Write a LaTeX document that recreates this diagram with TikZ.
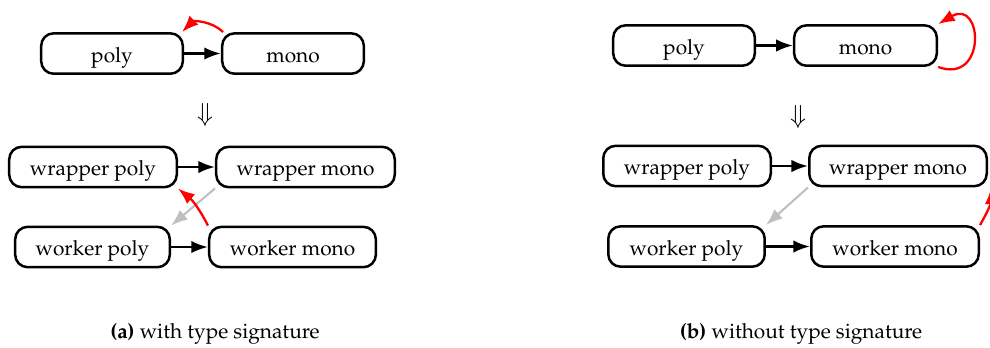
\documentclass[tikz,border=0pt]{standalone}
\usepackage[T1]{fontenc}
\usepackage{mathpazo}
\usepackage{tikz}
\usetikzlibrary{arrows.meta}
\tikzset{>={Latex[width=6pt,length=8pt]}}
\tikzset{
  fn/.style={draw, line width=1.2pt, rounded corners=6pt, minimum height=19.4pt, inner sep=0pt,
    text height=8.5pt, text depth=0pt},
  call/.style={->, line width=1.2pt},
  back/.style={->, line width=1.1pt, red},
  dead/.style={->, line width=1pt, black!25},
}

\begin{document}
\begin{tikzpicture}[x=0.48pt, y=-0.48pt]
  \clip (0,0) rectangle (990,347);

  % (a) with type signature
  \node[fn, minimum width=68pt] (poly-a) at (112,53.5) {poly};
  \node[fn, minimum width=68pt] (mono-a) at (293,53.5) {mono};
  \node (down-a) at (205,115) {\large$\Downarrow$};
  \node[fn, minimum width=80.4pt] (wrap-poly-a) at (93,167) {wrapper poly};
  \node[fn, minimum width=85.7pt] (wrap-mono-a) at (305.5,167) {wrapper mono};
  \node[fn, minimum width=74.2pt] (work-poly-a) at (92.5,247) {worker poly};
  \node[fn, minimum width=80pt] (work-mono-a) at (292.5,247) {worker mono};

  \draw[call] (poly-a) -- (mono-a);
  \draw[back] ([xshift=1pt]mono-a.north west) to[bend right=45] ([xshift=-1pt]poly-a.north east);
  \draw[call] (wrap-poly-a) -- (wrap-mono-a);
  \draw[call] (work-poly-a) -- (work-mono-a);
  \draw[dead] (wrap-mono-a.south west) -- (work-poly-a.north east);
  \draw[back] (work-mono-a.north west) to[bend right=12] (wrap-poly-a.south east);

  \node (cap-a) at (215,334) {\textbf{(a)} with type signature};

  % (b) without type signature
  \node[fn, minimum width=68pt] (poly-b) at (684,45.5) {poly};
  \node[fn, minimum width=68.5pt] (mono-b) at (865.5,45.5) {mono};
  \node (down-b) at (798,117) {\large$\Downarrow$};
  \node[fn, minimum width=80.4pt] (wrap-poly-b) at (687,166) {wrapper poly};
  \node[fn, minimum width=85.2pt] (wrap-mono-b) at (898,166) {wrapper mono};
  \node[fn, minimum width=75.1pt] (work-poly-b) at (686.5,246.5) {worker poly};
  \node[fn, minimum width=80.4pt] (work-mono-b) at (895,246.5) {worker mono};

  \draw[call] (poly-b) -- (mono-b);
  \draw[back] (mono-b.south east) to[out=-20, in=30, looseness=3.1] (mono-b.north east);
  \draw[call] (wrap-poly-b) -- (wrap-mono-b);
  \draw[call] (work-poly-b) -- (work-mono-b);
  \draw[dead] (wrap-mono-b.south west) -- (work-poly-b.north east);
  \coordinate (out-b) at ([xshift=1.5pt]wrap-mono-b.south east);
  \draw[back] (work-mono-b.north east) to[out=60, in=-90] (out-b);

  \node (cap-b) at (801,334) {\textbf{(b)} without type signature};
\end{tikzpicture}
\end{document}
